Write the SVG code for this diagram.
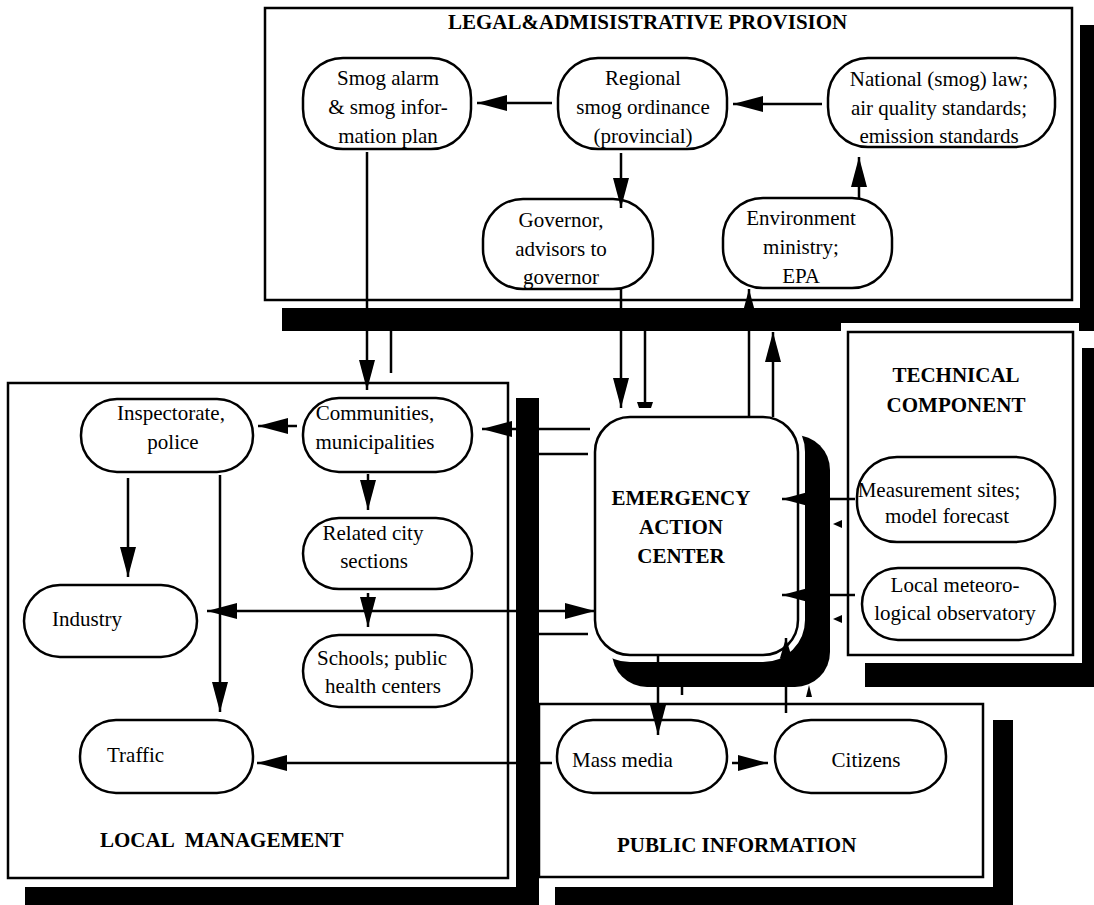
<svg xmlns="http://www.w3.org/2000/svg" width="1094" height="905" viewBox="0 0 1094 905">
<style>
.box{fill:#fff;stroke:#000;stroke-width:2.5}
.node{fill:#fff;stroke:#000;stroke-width:2.5}
.sh{fill:#000}
.t{font-family:"Liberation Serif","Times New Roman",serif;font-size:21px;fill:#000}
.b{font-weight:bold}
.c{text-anchor:middle}
.ln{stroke:#000;stroke-width:2.5;fill:none}
</style>
<defs>
<marker id="ah" viewBox="0 0 30 16" markerWidth="30" markerHeight="16" refX="30" refY="8" orient="auto-start-reverse" markerUnits="userSpaceOnUse"><path d="M0,0 L30,8 L0,16 z" fill="#000"/></marker>
<marker id="ahs" viewBox="0 0 20 12" markerWidth="20" markerHeight="12" refX="20" refY="6" orient="auto" markerUnits="userSpaceOnUse"><path d="M0,0 L20,6 L0,12 z" fill="#000"/></marker>
</defs>
<rect width="1094" height="905" fill="#fff"/>
<g id="shadows">
<rect class="sh" x="282" y="308" width="812" height="23"/>
<rect class="sh" x="1080" y="25" width="14" height="306"/>
<rect class="sh" x="1082" y="348" width="12" height="339"/>
<rect class="sh" x="865" y="663" width="229" height="24"/>
<rect class="sh" x="516" y="398" width="23" height="507"/>
<rect class="sh" x="25" y="887" width="514" height="18"/>
<rect class="sh" x="993" y="720" width="20" height="185"/>
<rect class="sh" x="555" y="887" width="458" height="18"/>
<rect class="sh" x="612" y="435" width="218" height="252" rx="35"/>
</g>
<g id="legal">
<rect class="box" x="265" y="8" width="807" height="292"/>
<text class="t b" x="448" y="29">LEGAL&amp;ADMISISTRATIVE PROVISION</text>
</g>
<g id="technical">
<rect x="841" y="323" width="238" height="338" fill="#fff"/>
<rect class="box" x="848" y="332" width="225" height="323"/>
<text class="t b c" x="956" y="382">TECHNICAL</text>
<text class="t b c" x="956" y="412">COMPONENT</text>
</g>
<g id="local">
<rect class="box" x="8" y="383" width="500" height="495"/>
<text class="t b" x="100" y="847" word-spacing="6">LOCAL MANAGEMENT</text>
</g>
<g id="public">
<rect class="box" x="539" y="704" width="444" height="173"/>
<text class="t b" x="617" y="852">PUBLIC INFORMATION</text>
</g>
<g id="smog-alarm">
<rect class="node" x="303" y="58" width="168" height="91" rx="40"/>
<text class="t c" x="388" y="85">Smog alarm</text>
<text class="t c" x="388" y="114">&amp; smog infor-</text>
<text class="t c" x="388" y="143">mation plan</text>
</g>
<g id="regional">
<rect class="node" x="558" y="58" width="169" height="91" rx="40"/>
<text class="t c" x="643" y="85">Regional</text>
<text class="t c" x="643" y="114">smog ordinance</text>
<text class="t c" x="643" y="143">(provincial)</text>
</g>
<g id="national">
<rect class="node" x="828" y="58" width="227" height="89" rx="40"/>
<text class="t c" x="939" y="86">National (smog) law;</text>
<text class="t c" x="939" y="115">air quality standards;</text>
<text class="t c" x="939" y="143">emission standards</text>
</g>
<g id="governor">
<rect class="node" x="483" y="199" width="170" height="90" rx="40"/>
<text class="t c" x="561" y="227">Governor,</text>
<text class="t c" x="561" y="256">advisors to</text>
<text class="t c" x="561" y="284">governor</text>
</g>
<g id="environment">
<rect class="node" x="723" y="198" width="169" height="90" rx="40"/>
<text class="t c" x="801" y="225">Environment</text>
<text class="t c" x="801" y="254">ministry;</text>
<text class="t c" x="801" y="283">EPA</text>
</g>
<g id="inspectorate">
<rect class="node" x="81" y="399" width="172" height="73" rx="36"/>
<text class="t c" x="171" y="420">Inspectorate,</text>
<text class="t c" x="173" y="449">police</text>
</g>
<g id="communities">
<rect class="node" x="303" y="398" width="169" height="74" rx="36"/>
<text class="t c" x="375" y="420">Communities,</text>
<text class="t c" x="375" y="449">municipalities</text>
</g>
<g id="related">
<rect class="node" x="303" y="518" width="169" height="71" rx="36"/>
<text class="t c" x="373" y="540">Related city</text>
<text class="t c" x="374" y="568">sections</text>
</g>
<g id="schools">
<rect class="node" x="303" y="635" width="169" height="72" rx="36"/>
<text class="t c" x="382" y="665">Schools; public</text>
<text class="t c" x="383" y="693">health centers</text>
</g>
<g id="industry">
<rect class="node" x="24" y="585" width="173" height="72" rx="36"/>
<text class="t" x="52" y="626">Industry</text>
</g>
<g id="traffic">
<rect class="node" x="80" y="720" width="173" height="73" rx="36"/>
<text class="t" x="107" y="762">Traffic</text>
</g>
<g id="mass-media">
<rect class="node" x="557" y="720" width="170" height="73" rx="36"/>
<text class="t" x="572" y="767">Mass media</text>
</g>
<g id="citizens">
<rect class="node" x="775" y="720" width="171" height="73" rx="36"/>
<text class="t c" x="866" y="767">Citizens</text>
</g>
<g id="measurement">
<rect class="node" x="857" y="457" width="198" height="85" rx="40"/>
<text class="t c" x="939" y="497" font-size="20">Measurement sites;</text>
<text class="t c" x="947" y="523" font-size="20">model forecast</text>
</g>
<g id="meteorological">
<rect class="node" x="862" y="568" width="193" height="72" rx="36"/>
<text class="t c" x="955" y="592">Local meteoro-</text>
<text class="t c" x="955" y="620">logical observatory</text>
</g>
<g id="eac">
<rect x="595" y="417" width="203" height="238" rx="35" fill="#fff" stroke="#fff" stroke-width="14"/>
<rect class="node" x="595" y="417" width="203" height="238" rx="35"/>
<text class="t b c" x="681" y="505">EMERGENCY</text>
<text class="t b c" x="681" y="534">ACTION</text>
<text class="t b c" x="681" y="563">CENTER</text>
</g>
<g id="connectors">
<line class="ln" x1="552" y1="103" x2="477" y2="103" marker-end="url(#ah)"/>
<line class="ln" x1="822" y1="104" x2="733" y2="104" marker-end="url(#ah)"/>
<line class="ln" x1="621" y1="153" x2="621" y2="208" marker-end="url(#ah)"/>
<line class="ln" x1="859" y1="198" x2="859" y2="157" marker-end="url(#ah)"/>
<line class="ln" x1="367" y1="152" x2="367" y2="390" marker-end="url(#ah)"/>
<line class="ln" x1="391" y1="331" x2="391" y2="373"/>
<line class="ln" x1="621" y1="289" x2="621" y2="408" marker-end="url(#ah)"/>
<line class="ln" x1="645" y1="331" x2="645" y2="404"/>
<path d="M637,402 L653,402 L651,408 L639,408 z" fill="#000"/>
<line class="ln" x1="749" y1="417" x2="749" y2="289" marker-end="url(#ah)"/>
<line class="ln" x1="773" y1="417" x2="773" y2="332" marker-end="url(#ah)"/>
<line class="ln" x1="590" y1="429" x2="482" y2="429" marker-end="url(#ah)"/>
<line class="ln" x1="539" y1="454" x2="588" y2="454"/>
<line class="ln" x1="539" y1="634" x2="588" y2="634"/>
<line class="ln" x1="297" y1="426" x2="258" y2="426" marker-end="url(#ah)"/>
<line class="ln" x1="368" y1="474" x2="368" y2="510" marker-end="url(#ah)"/>
<line class="ln" x1="368" y1="593" x2="368" y2="627" marker-end="url(#ah)"/>
<line class="ln" x1="128" y1="478" x2="128" y2="577" marker-end="url(#ah)"/>
<line class="ln" x1="220" y1="475" x2="220" y2="712" marker-end="url(#ah)"/>
<line class="ln" x1="207" y1="611" x2="595" y2="611" marker-start="url(#ah)" marker-end="url(#ah)"/>
<line class="ln" x1="552" y1="763" x2="257" y2="763" marker-end="url(#ah)"/>
<line class="ln" x1="658" y1="656" x2="658" y2="735" marker-end="url(#ah)"/>
<line class="ln" x1="732" y1="763" x2="768" y2="763" marker-end="url(#ah)"/>
<line class="ln" x1="786" y1="713" x2="786" y2="638" marker-end="url(#ahs)"/>
<line class="ln" x1="855" y1="499" x2="782" y2="499" marker-end="url(#ah)"/>
<line class="ln" x1="855" y1="595" x2="782" y2="595" marker-end="url(#ah)"/>
<path d="M833,524 L842,520 L842,528 z" fill="#000"/>
<path d="M833,619 L842,615 L842,623 z" fill="#000"/>
<line class="ln" x1="682" y1="687" x2="682" y2="695"/>
<path d="M809,685 L806,697 L812,697 z" fill="#000"/>
</g>
</svg>
